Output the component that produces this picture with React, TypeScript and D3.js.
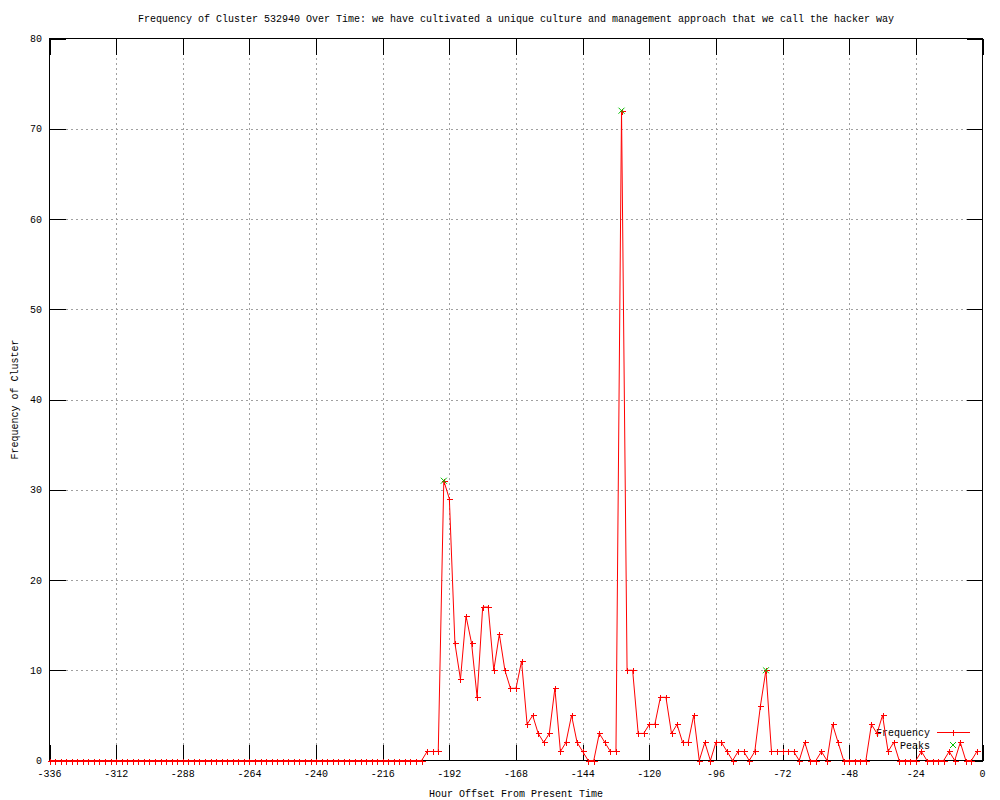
import React, { useRef, useEffect } from 'react';
import * as d3 from 'd3';

const chartTitle = 'Frequency of Cluster 532940 Over Time: we have cultivated a unique culture and management approach that we call the hacker way';
const xTitle = 'Hour Offset From Present Time';
const yTitle = 'Frequency of Cluster';

// hour offsets, one sample every 2 hours
const hours = d3.range(-336, 0, 2);

// frequency per 2h bucket, 12 values per 24h row (-336 ... -2)
const frequency = [
  0, 0, 0, 0, 0, 0, 0, 0, 0, 0, 0, 0,
  0, 0, 0, 0, 0, 0, 0, 0, 0, 0, 0, 0,
  0, 0, 0, 0, 0, 0, 0, 0, 0, 0, 0, 0,
  0, 0, 0, 0, 0, 0, 0, 0, 0, 0, 0, 0,
  0, 0, 0, 0, 0, 0, 0, 0, 0, 0, 0, 0,
  0, 0, 0, 0, 0, 0, 0, 0, 1, 1, 1, 31,
  29, 13, 9, 16, 13, 7, 17, 17, 10, 14, 10, 8,
  8, 11, 4, 5, 3, 2, 3, 8, 1, 2, 5, 2,
  1, 0, 0, 3, 2, 1, 1, 72, 10, 10, 3, 3,
  4, 4, 7, 7, 3, 4, 2, 2, 5, 0, 2, 0,
  2, 2, 1, 0, 1, 1, 0, 1, 6, 10, 1, 1,
  1, 1, 1, 0, 2, 0, 0, 1, 0, 4, 2, 0,
  0, 0, 0, 0, 4, 3, 5, 1, 2, 0, 0, 0,
  0, 1, 0, 0, 0, 0, 1, 0, 2, 0, 0, 1,
];

const peakHours = [-194, -130, -78];
const peakValues = [31, 72, 10];

const xTicks = [-336, -312, -288, -264, -240, -216, -192, -168, -144, -120, -96, -72, -48, -24, 0];
const yTicks = [0, 10, 20, 30, 40, 50, 60, 70, 80];

const FONT = '"Liberation Mono", "DejaVu Sans Mono", monospace';

const Chart = ({ w, h }: { w: number; h: number }) => {
  const svgRef = useRef<SVGGElement | null>(null);

  useEffect(() => {
    draw();
  }, []);

  const draw = () => {
    const g = d3.select(svgRef.current);
    g.selectAll('*').remove();

    const left = 49.5, right = 982.5, top = 38.5, bottom = 760.5;
    const tick = 16;

    const x = d3.scaleLinear().domain([-336, 0]).range([left, right]);
    const y = d3.scaleLinear().domain([0, 80]).range([bottom, top]);

    // grid
    const grid = g.append('g').attr('stroke', '#a0a0a0').attr('stroke-dasharray', '2,3').attr('shape-rendering', 'crispEdges');
    grid.selectAll('line.gx')
      .data(xTicks.slice(1, -1))
      .enter()
      .append('line')
      .attr('x1', d => Math.round(x(d)) + 0.5)
      .attr('x2', d => Math.round(x(d)) + 0.5)
      .attr('y1', bottom - tick)
      .attr('y2', top + tick);
    grid.selectAll('line.gy')
      .data(yTicks.slice(1, -1))
      .enter()
      .append('line')
      .attr('y1', d => Math.round(y(d)) + 0.5)
      .attr('y2', d => Math.round(y(d)) + 0.5)
      .attr('x1', left + tick)
      .attr('x2', right - tick);

    // ticks on all four sides, pointing inward
    const ticks = g.append('g').attr('stroke', '#000').attr('shape-rendering', 'crispEdges');
    xTicks.forEach(t => {
      const px = Math.round(x(t)) + 0.5;
      ticks.append('line').attr('x1', px).attr('x2', px).attr('y1', bottom).attr('y2', bottom - tick);
      ticks.append('line').attr('x1', px).attr('x2', px).attr('y1', top).attr('y2', top + tick);
    });
    yTicks.forEach(t => {
      const py = Math.round(y(t)) + 0.5;
      ticks.append('line').attr('y1', py).attr('y2', py).attr('x1', left).attr('x2', left + tick);
      ticks.append('line').attr('y1', py).attr('y2', py).attr('x1', right).attr('x2', right - tick);
    });

    // border
    g.append('rect')
      .attr('x', left).attr('y', top)
      .attr('width', right - left).attr('height', bottom - top)
      .attr('fill', 'none').attr('stroke', '#000').attr('shape-rendering', 'crispEdges');

    // tick labels
    const txt = g.append('g').style('font-family', FONT).style('font-size', '10px').attr('fill', '#000');
    txt.selectAll('text.xl')
      .data(xTicks)
      .enter()
      .append('text')
      .attr('x', d => x(d))
      .attr('y', 777)
      .attr('text-anchor', 'middle')
      .text(d => String(d));
    txt.selectAll('text.yl')
      .data(yTicks)
      .enter()
      .append('text')
      .attr('x', 42)
      .attr('y', d => y(d) + 3.5)
      .attr('text-anchor', 'end')
      .text(d => String(d));

    // titles
    txt.append('text').attr('x', 516).attr('y', 22).attr('text-anchor', 'middle').text(chartTitle);
    txt.append('text').attr('x', 516).attr('y', 797).attr('text-anchor', 'middle').text(xTitle);
    txt.append('text')
      .attr('text-anchor', 'middle')
      .attr('transform', 'translate(17.5,399.5)rotate(-90)')
      .text(yTitle);

    // legend text
    txt.append('text').attr('x', 930).attr('y', 735.5).attr('text-anchor', 'end').text('Frequency');
    txt.append('text').attr('x', 930).attr('y', 748.5).attr('text-anchor', 'end').text('Peaks');

    const pts = hours.map((hr, i) => [hr, frequency[i]] as [number, number]);

    // frequency line
    const line = d3.line<[number, number]>().x(d => x(d[0])).y(d => y(d[1]));
    g.append('path')
      .datum(pts)
      .attr('d', line)
      .attr('fill', 'none')
      .attr('stroke', '#ff0000')
      .attr('stroke-width', 1);

    const plusPath = (cx: number, cy: number, s: number) =>
      `M${cx - s},${cy}H${cx + s}M${cx},${cy - s}V${cy + s}`;
    const crossPath = (cx: number, cy: number, s: number) =>
      `M${cx - s},${cy - s}L${cx + s},${cy + s}M${cx - s},${cy + s}L${cx + s},${cy - s}`;

    g.append('g')
      .selectAll('path')
      .data(pts)
      .enter()
      .append('path')
      .attr('d', d => plusPath(Math.round(x(d[0])) + 0.5, Math.round(y(d[1])) + 0.5, 3))
      .attr('stroke', '#ff0000')
      .attr('fill', 'none')
      .attr('shape-rendering', 'crispEdges');

    // peaks
    g.append('g')
      .selectAll('path')
      .data(peakHours.map((hr, i) => [hr, peakValues[i]]))
      .enter()
      .append('path')
      .attr('d', d => crossPath(x(d[0]), y(d[1]), 3))
      .attr('stroke', '#00c000')
      .attr('fill', 'none');

    // legend samples
    g.append('line')
      .attr('x1', 937).attr('x2', 970).attr('y1', 732.5).attr('y2', 732.5)
      .attr('stroke', '#ff0000').attr('shape-rendering', 'crispEdges');
    g.append('path').attr('d', plusPath(953.5, 732.5, 3)).attr('stroke', '#ff0000').attr('shape-rendering', 'crispEdges');
    g.append('path').attr('d', crossPath(953, 745, 3)).attr('stroke', '#00c000').attr('fill', 'none');
  };

  return (
    <svg width={w} height={h} style={{ position: 'absolute', left: 0, top: 0, background: '#fff' }}>
      <g ref={svgRef} />
    </svg>
  );
};

export default function App() {
  return <Chart w={1000} h={800} />;
}
